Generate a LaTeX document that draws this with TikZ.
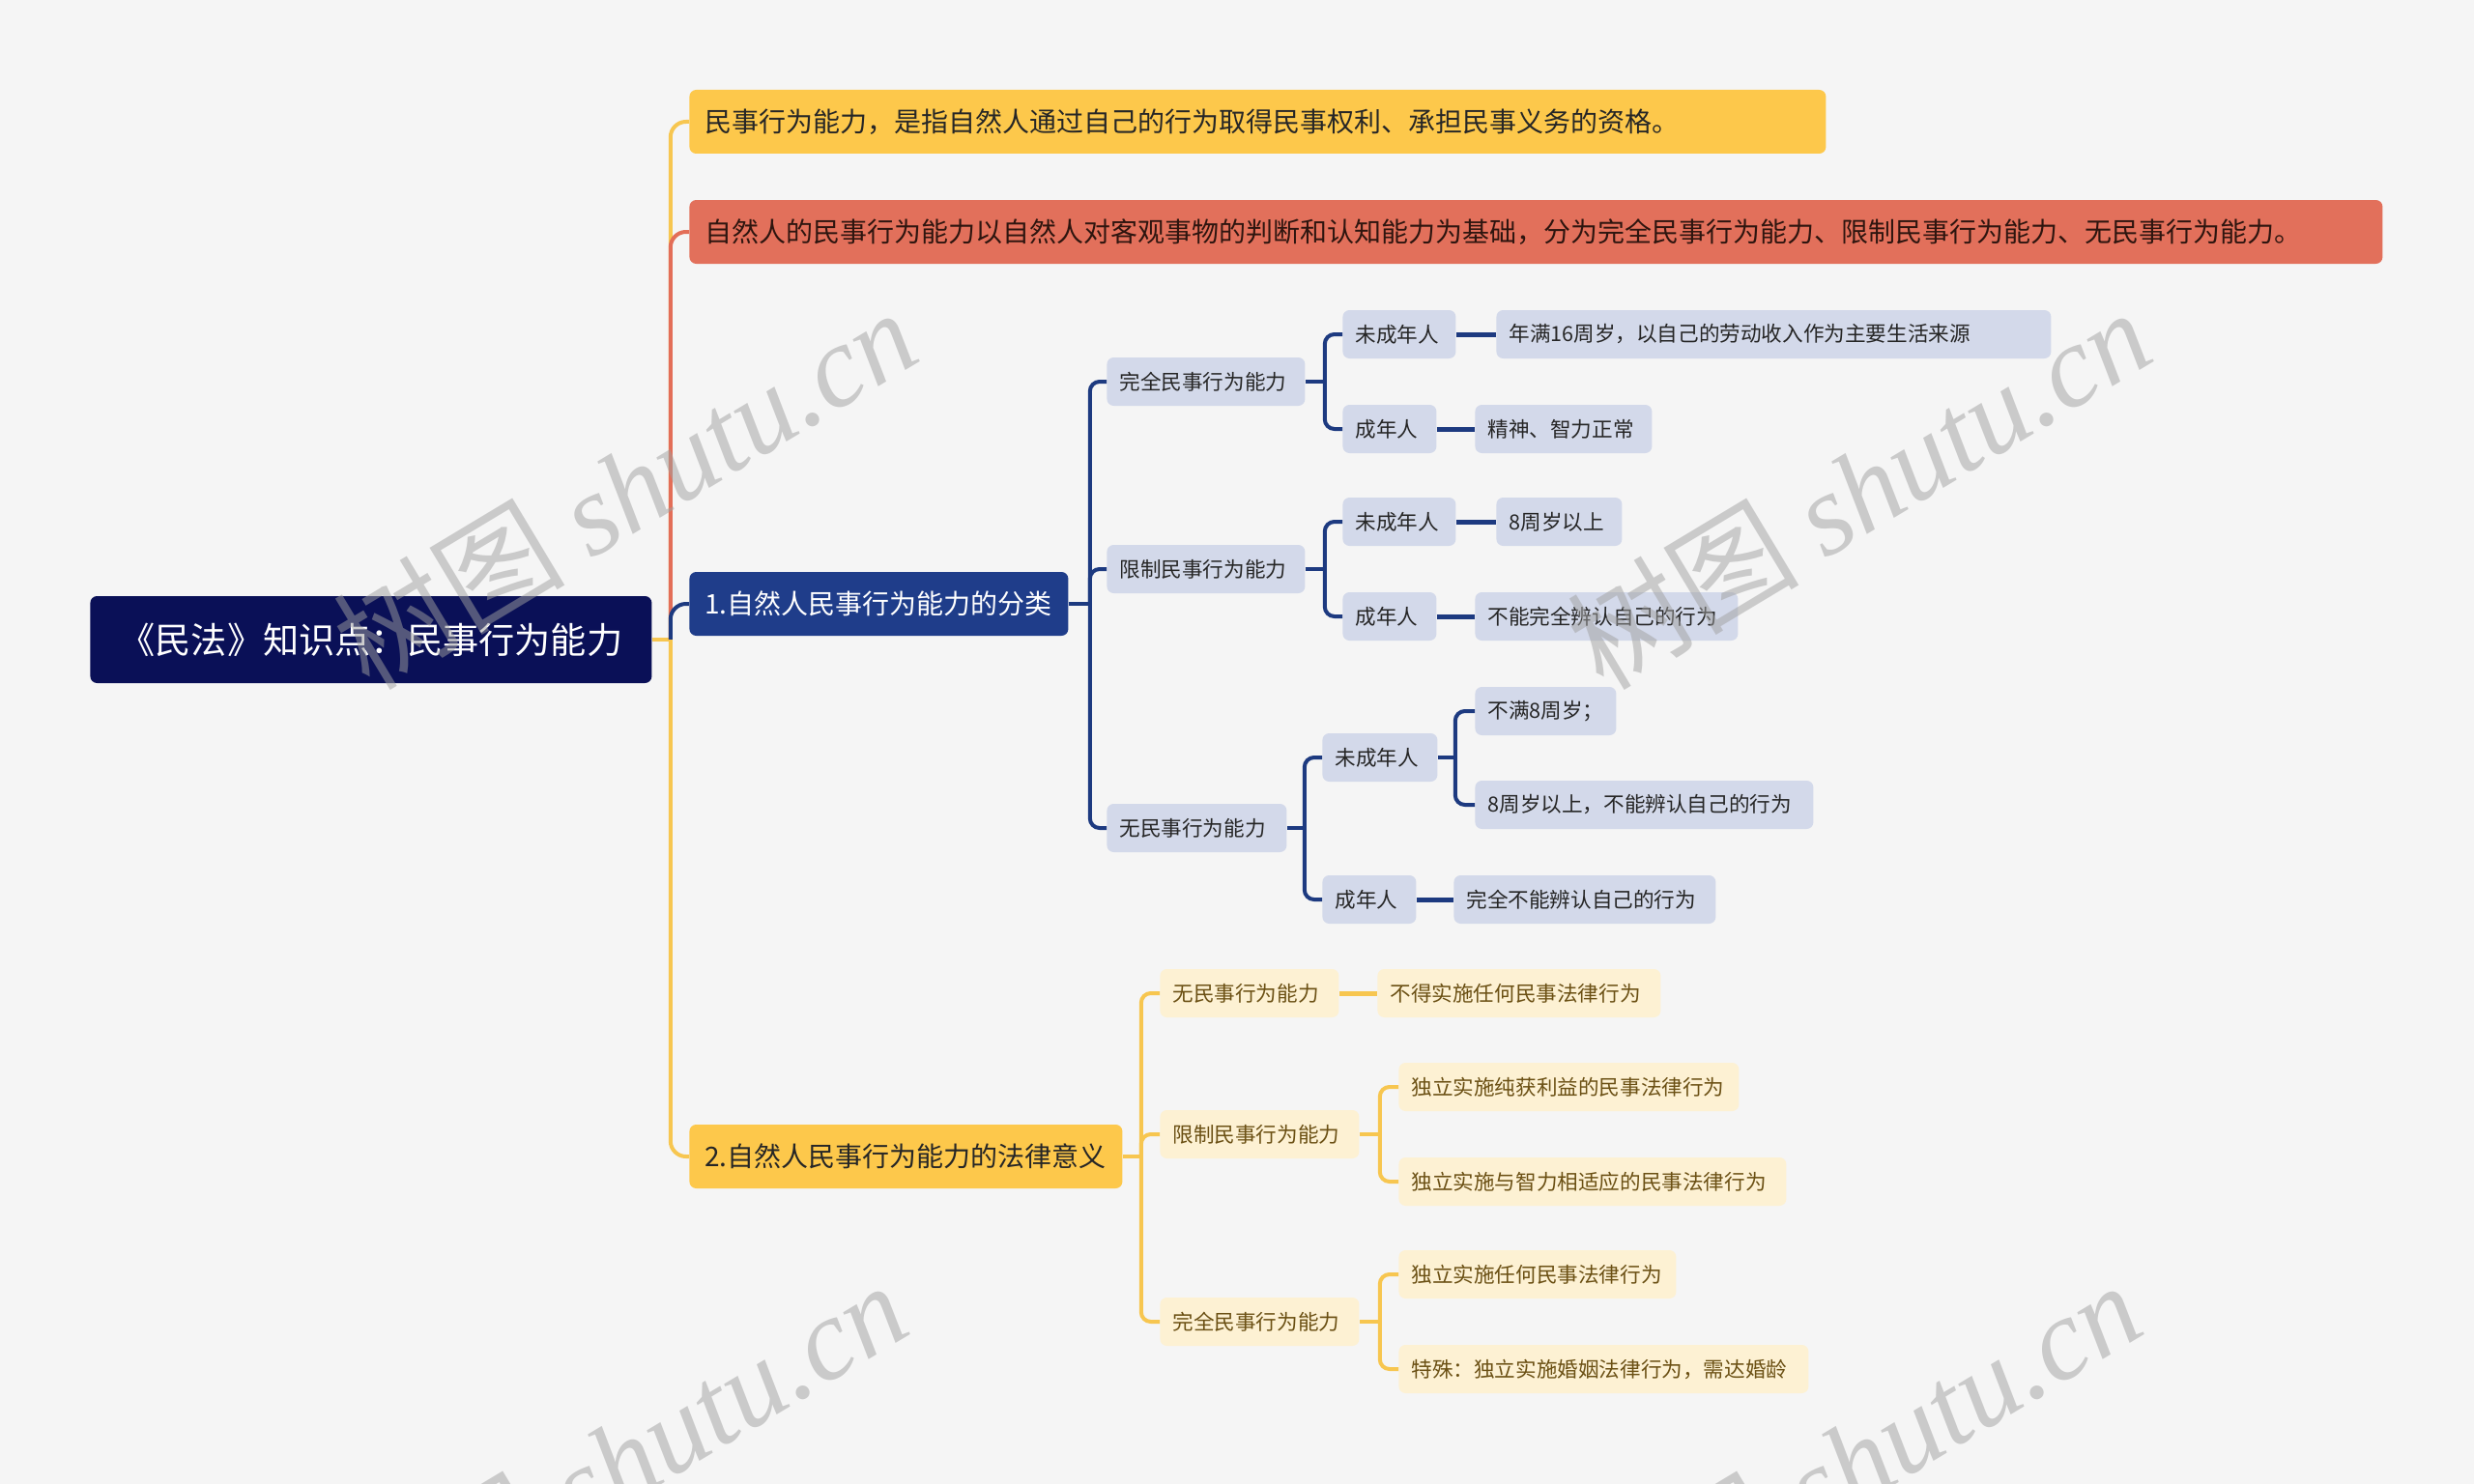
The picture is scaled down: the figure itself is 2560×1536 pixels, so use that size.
\documentclass[tikz,border=0pt]{standalone}
\usepackage{fontspec}
\setmainfont{Noto Sans CJK SC}
\newfontfamily\wmfont{Liberation Serif}
\usepackage{tikz}
\usetikzlibrary{positioning}

\definecolor{bgcol}{HTML}{F5F5F5}
\definecolor{rootcol}{HTML}{0A1057}
\definecolor{yellowcol}{HTML}{FDC84B}
\definecolor{yellowln}{HTML}{F7C650}
\definecolor{redcol}{HTML}{E2705B}
\definecolor{redln}{HTML}{E36E58}
\definecolor{bluecol}{HTML}{1F3D8A}
\definecolor{navyln}{HTML}{1D3A80}
\definecolor{lavcol}{HTML}{D3D9EA}
\definecolor{creamcol}{HTML}{FDF1D3}
\definecolor{creamtxt}{HTML}{6B5014}
\definecolor{darktxt}{HTML}{262626}
\definecolor{redtxt}{HTML}{2E150F}
\definecolor{wmcol}{HTML}{A0A0A0}

\begin{document}
\begin{tikzpicture}[
    x=0.5pt, y=-0.5pt,
    box/.style={rectangle, rounded corners=3.5pt, anchor=west, align=left, inner xsep=6.5pt, inner ysep=0pt},
    rootbox/.style={box, fill=rootcol, text=white, minimum height=45pt, align=center, inner xsep=0pt, font=\fontsize{18.6}{22}\selectfont},
    topbox/.style={box, minimum height=33pt, inner xsep=8pt, font=\fontsize{14}{17}\selectfont},
    subbox/.style={box, fill=lavcol, text=darktxt, minimum height=25pt, font=\fontsize{10.8}{13}\selectfont},
    creambox/.style={box, fill=creamcol, text=creamtxt, minimum height=25pt, font=\fontsize{10.8}{13}\selectfont},
    yellowbr/.style={draw=yellowln, line width=2pt, rounded corners=8pt},
    redbr/.style={draw=redln, line width=2pt, rounded corners=8pt},
    bluebr/.style={draw=navyln, line width=2pt, rounded corners=8pt},
    navybr/.style={draw=navyln, line width=2pt, rounded corners=5pt},
    navystub/.style={draw=navyln, line width=2.5pt},
    creambr/.style={draw=yellowln, line width=2pt, rounded corners=5pt},
    creamstub/.style={draw=yellowln, line width=2.5pt},
    watermark/.style={text=wmcol, opacity=0.5, rotate=31, inner sep=0pt, font=\fontsize{60}{60}\selectfont}
]
    \useasboundingbox (0,0) rectangle (2560,1536);
    \clip (0,0) rectangle (2560,1536);
    \fill[bgcol] (0,0) rectangle (2560,1536);

    % root and first level
    \node[rootbox, text width=290.5pt] (root) at (93,662) {《民法》知识点：民事行为能力};
    \node[topbox, fill=yellowcol, text=darktxt, text width=572pt] (def) at (713,126) {民事行为能力，是指自然人通过自己的行为取得民事权利、承担民事义务的资格。};
    \node[topbox, fill=redcol, text=redtxt, text width=860pt] (kind) at (713,240) {自然人的民事行为能力以自然人对客观事物的判断和认知能力为基础，分为完全民事行为能力、限制民事行为能力、无民事行为能力。};
    \node[topbox, fill=bluecol, text=white, text width=180pt] (cls) at (713,625) {1.自然人民事行为能力的分类};
    \node[topbox, fill=yellowcol, text=darktxt, text width=208pt] (law) at (713,1197) {2.自然人民事行为能力的法律意义};

    % classification
    \node[subbox, text width=89.5pt] (full) at (1145,395) {完全民事行为能力};
    \node[subbox, text width=89.5pt] (limit) at (1145,589) {限制民事行为能力};
    \node[subbox, text width=80pt] (none) at (1145,857) {无民事行为能力};

    \node[subbox, text width=45.5pt] (fmin) at (1389,346) {未成年人};
    \node[subbox, text width=35.5pt] (fadu) at (1389,444) {成年人};
    \node[subbox, text width=274pt] (fmin1) at (1548,346) {年满16周岁，以自己的劳动收入作为主要生活来源};
    \node[subbox, text width=78.5pt] (fadu1) at (1526,444) {精神、智力正常};

    \node[subbox, text width=45.5pt] (lmin) at (1389,540) {未成年人};
    \node[subbox, text width=35.5pt] (ladu) at (1389,638) {成年人};
    \node[subbox, text width=52pt] (lmin1) at (1548,540) {8周岁以上};
    \node[subbox, text width=123pt] (ladu1) at (1526,638) {不能完全辨认自己的行为};

    \node[subbox, text width=46.5pt] (nmin) at (1368,784) {未成年人};
    \node[subbox, text width=35.5pt] (nadu) at (1368,931) {成年人};
    \node[subbox, text width=60pt] (nmin1) at (1526,736) {不满8周岁；};
    \node[subbox, text width=162pt] (nmin2) at (1526,833) {8周岁以上，不能辨认自己的行为};
    \node[subbox, text width=122.5pt] (nadu1) at (1504,931) {完全不能辨认自己的行为};

    % legal meaning
    \node[creambox, text width=79.5pt] (gnone) at (1200,1028) {无民事行为能力};
    \node[creambox, text width=90pt] (glimit) at (1200,1174) {限制民事行为能力};
    \node[creambox, text width=90pt] (gfull) at (1200,1368) {完全民事行为能力};
    \node[creambox, text width=133.5pt] (gnone1) at (1425,1028) {不得实施任何民事法律行为};
    \node[creambox, text width=163pt] (glimit1) at (1447,1125) {独立实施纯获利益的民事法律行为};
    \node[creambox, text width=187.5pt] (glimit2) at (1447,1223) {独立实施与智力相适应的民事法律行为};
    \node[creambox, text width=130.5pt] (gfull1) at (1447,1319) {独立实施任何民事法律行为};
    \node[creambox, text width=199pt] (gfull2) at (1447,1417) {特殊：独立实施婚姻法律行为，需达婚龄};

    % main branches
    \draw[yellowbr] (root.east) -- ++(19,0) coordinate (rj);
    \draw[yellowbr] (rj) |- (def.west);
    \draw[redbr] (rj) |- (kind.west);
    \draw[bluebr] (rj) |- (cls.west);
    \draw[yellowbr] (rj) |- (law.west);

    % branches of the classification
    \draw[navybr] (cls.east) -- ++(22,0) coordinate (clsj);
    \foreach \k in {full,limit,none}
        \draw[navybr] (clsj) |- (\k.west);
    \draw[navybr] (full.east) -- ++(20,0) coordinate (fullj);
    \foreach \k in {fmin,fadu}
        \draw[navybr] (fullj) |- (\k.west);
    \draw[navybr] (limit.east) -- ++(20,0) coordinate (limitj);
    \foreach \k in {lmin,ladu}
        \draw[navybr] (limitj) |- (\k.west);
    \draw[navybr] (none.east) -- ++(18,0) coordinate (nonej);
    \foreach \k in {nmin,nadu}
        \draw[navybr] (nonej) |- (\k.west);
    \draw[navybr] (nmin.east) -- ++(18,0) coordinate (nminj);
    \foreach \k in {nmin1,nmin2}
        \draw[navybr] (nminj) |- (\k.west);
    \draw[navystub] (fmin) -- (fmin1);
    \draw[navystub] (fadu) -- (fadu1);
    \draw[navystub] (lmin) -- (lmin1);
    \draw[navystub] (ladu) -- (ladu1);
    \draw[navystub] (nadu) -- (nadu1);

    % branches of the legal meaning
    \draw[creambr] (law.east) -- ++(19,0) coordinate (lawj);
    \foreach \k in {gnone,glimit,gfull}
        \draw[creambr] (lawj) |- (\k.west);
    \draw[creambr] (glimit.east) -- ++(21,0) coordinate (glimitj);
    \foreach \k in {glimit1,glimit2}
        \draw[creambr] (glimitj) |- (\k.west);
    \draw[creambr] (gfull.east) -- ++(21,0) coordinate (gfullj);
    \foreach \k in {gfull1,gfull2}
        \draw[creambr] (gfullj) |- (\k.west);
    \draw[creamstub] (gnone) -- (gnone1);

    % watermarks
    \foreach \wx/\wy in {646/505, 1923/505, 636/1512, 1913/1512}
        \node[watermark] (wm) at (\wx,\wy) {树图 {\wmfont\itshape shutu.cn}};
\end{tikzpicture}
\end{document}
